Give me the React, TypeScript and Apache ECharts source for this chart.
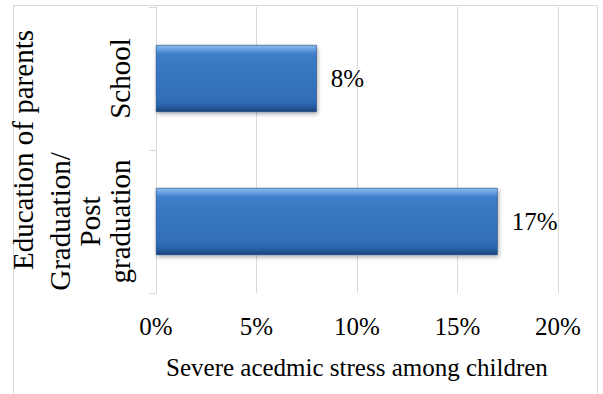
import React, { useEffect, useRef } from "react";
import * as echarts from "echarts";

const categories = ["Graduation/\nPost\ngraduation", "School"];
const values = [17, 8];
const xTicks = [0, 5, 10, 15, 20];
const xAxisTitle = "Severe acedmic stress among children";
const yAxisTitle = "Education of parents";

const FONT = "Liberation Serif";

export default function App() {
  const ref = useRef<HTMLDivElement>(null);
  useEffect(() => {
    if (!ref.current) return;
    const chart = echarts.init(ref.current, null, { renderer: "svg" });
    chart.setOption({
      animation: false,
      backgroundColor: "#ffffff",
      textStyle: { fontFamily: FONT },
      graphic: [
        {
          type: "rect",
          left: 11,
          top: 3,
          shape: { x: 0, y: 0, width: 584, height: 420 },
          style: { fill: "none", stroke: "#d9d9d9", lineWidth: 1 },
          silent: true,
        },
      ],
      grid: { left: 152, right: 45, top: 7, bottom: 101, containLabel: false },
      xAxis: {
        type: "value",
        min: xTicks[0],
        max: xTicks[xTicks.length - 1],
        interval: 5,
        name: xAxisTitle,
        nameLocation: "middle",
        nameGap: 62,
        nameTextStyle: { fontFamily: FONT, fontSize: 25, color: "#000" },
        axisLine: { show: false },
        axisTick: { show: false },
        axisLabel: {
          formatter: (v: number) => v + "%",
          fontFamily: FONT,
          fontSize: 25,
          color: "#000",
          margin: 21,
        },
        splitLine: { show: true, lineStyle: { color: "#d9d9d9", width: 1 } },
      },
      yAxis: {
        type: "category",
        data: categories,
        name: yAxisTitle,
        nameLocation: "middle",
        nameRotate: 90,
        nameGap: 105,
        nameTextStyle: { fontFamily: FONT, fontSize: 29, color: "#000" },
        axisLine: { show: true, lineStyle: { color: "#d9d9d9", width: 1 } },
        axisTick: { show: true, length: 7, lineStyle: { color: "#d9d9d9" } },
        axisLabel: {
          interval: 0,
          hideOverlap: false,
          rotate: 90,
          fontFamily: FONT,
          fontSize: 29,
          lineHeight: 30,
          color: "#000",
          margin: 21,
          align: "center",
        },
        splitLine: { show: false },
      },
      series: [
        {
          type: "bar",
          data: values,
          barWidth: 67,
          itemStyle: {
            color: new echarts.graphic.LinearGradient(0, 0, 0, 1, [
              { offset: 0, color: "#8dbcef" },
              { offset: 0.04, color: "#75aae6" },
              { offset: 0.1, color: "#4f8dd6" },
              { offset: 0.14, color: "#3d7cc7" },
              { offset: 0.85, color: "#2f6cb7" },
              { offset: 0.9, color: "#2a63a9" },
              { offset: 0.96, color: "#1f508e" },
              { offset: 1, color: "#173f74" },
            ]),
            borderColor: "#1f4c86",
            borderWidth: 0.6,
            shadowColor: "rgba(0,0,0,0.35)",
            shadowBlur: 4,
            shadowOffsetY: 2,
            shadowOffsetX: 1,
          },
          label: {
            show: true,
            position: "right",
            distance: 14,
            formatter: (p: any) => p.value + "%",
            fontFamily: FONT,
            fontSize: 25,
            color: "#000",
          },
        },
      ],
    });
    return () => chart.dispose();
  }, []);
  return <div ref={ref} style={{ width: 603, height: 394, position: "absolute", left: 0, top: 0 }} />;
}
